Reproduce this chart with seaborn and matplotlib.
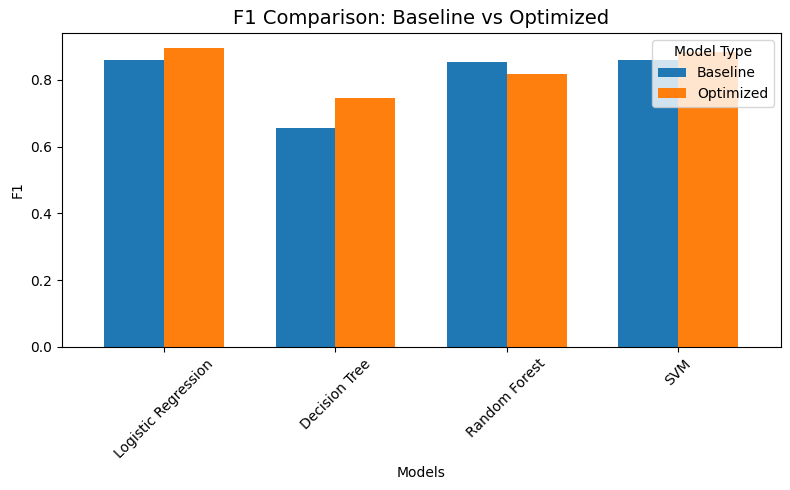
import pandas as pd
import matplotlib.pyplot as plt
import seaborn as sns

models = ['Logistic Regression', 'Decision Tree', 'Random Forest', 'SVM']
baseline_f1 = [0.860, 0.656, 0.854, 0.860]
optimized_f1 = [0.896, 0.746, 0.818, 0.882]
model_types = ['Baseline', 'Optimized']

df = pd.DataFrame({
    'Models': models * 2,
    'F1': baseline_f1 + optimized_f1,
    'Model Type': [model_types[0]] * len(models) + [model_types[1]] * len(models),
})

fig, ax = plt.subplots(figsize=(7.9, 4.9), dpi=100)
sns.barplot(data=df, x='Models', y='F1', hue='Model Type', order=models,
            hue_order=model_types, palette=['#1f77b4', '#ff7f0e'],
            width=0.7, saturation=1, errorbar=None, ax=ax)
ax.set_xlim(-0.6, 3.6)
ax.set_title('F1 Comparison: Baseline vs Optimized', fontsize=14)
ax.set_xlabel('Models')
ax.set_ylabel('F1')
plt.xticks(rotation=45)
ax.legend(title='Model Type', loc='upper right')
fig.subplots_adjust(left=0.078, right=0.988, top=0.933, bottom=0.292)
plt.savefig('out.png', dpi=100)
